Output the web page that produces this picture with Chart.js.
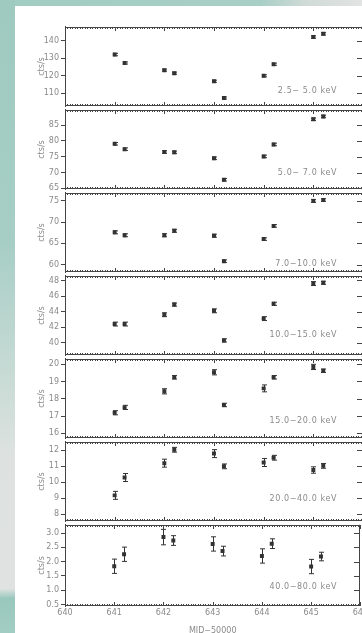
<!DOCTYPE html>
<html>
<head>
<meta charset="utf-8">
<script src="https://cdn.jsdelivr.net/npm/chart.js@4.4.0/dist/chart.umd.min.js"></script>
<style>
  html, body { margin: 0; padding: 0; }
  body { width: 362px; height: 633px; overflow: hidden; position: relative; background: #a6cec5; }
  #edge-top { position: absolute; left: 0; top: 0; width: 362px; height: 6px;
    background: linear-gradient(90deg, #a1ccc2 0%, #a8cfc6 72%, #cfdad6 84%, #e2e3e3 100%); }
  #edge-left { position: absolute; left: 0; top: 0; width: 15px; height: 633px;
    background: linear-gradient(180deg, #9fcac0 0%, #a6cec5 38%, #c6dad4 58%, #dde2e0 72%, #dfe2e1 93%, #9ac8bd 94.5%, #a2cdc3 100%); }
  #sheet { position: absolute; left: 15px; top: 6px; width: 347px; height: 627px; background: #ffffff; }
  #plots { position: absolute; left: 0; top: 0; width: 362px; height: 633px; overflow: hidden; }
  #plots canvas { position: absolute; left: 0; }
</style>
</head>
<body>
<div id="edge-top"></div>
<div id="edge-left"></div>
<div id="sheet"></div>
<div id="plots"></div>
<script>
// Observation times (MJD - 50000)
const mjd = [641.0, 641.2, 642.0, 642.2, 643.0, 643.2, 644.0, 644.2, 645.0, 645.2];
const mjdTicks = [640, 641, 642, 643, 644, 645, 646];

// Energy bands
const bands = ['2.5\u2212 5.0 keV', '5.0\u2212 7.0 keV', '7.0\u221210.0 keV', '10.0\u221215.0 keV',
               '15.0\u221220.0 keV', '20.0\u221240.0 keV', '40.0\u221280.0 keV'];

// Count rates (cts/s) and 1-sigma errors per band
const rate2_5   = [132.0, 127.2, 123.1, 121.4, 116.8, 107.3, 119.9, 126.5, 142.0, 143.8];
const err2_5    = [0.7, 0.6, 0.6, 0.6, 0.6, 0.6, 0.6, 0.6, 0.7, 0.7];
const rate5_7   = [79.1, 77.4, 76.5, 76.4, 74.5, 67.7, 75.1, 78.9, 86.9, 87.8];
const err5_7    = [0.4, 0.4, 0.4, 0.4, 0.4, 0.4, 0.4, 0.4, 0.4, 0.4];
const rate7_10  = [67.6, 66.9, 66.9, 67.95, 66.8, 60.8, 66.0, 69.1, 75.0, 75.2];
const err7_10   = [0.35, 0.35, 0.35, 0.35, 0.35, 0.3, 0.3, 0.3, 0.35, 0.3];
const rate10_15 = [42.4, 42.4, 43.6, 44.9, 44.1, 40.3, 43.1, 45.0, 47.6, 47.7];
const err10_15  = [0.25, 0.25, 0.25, 0.2, 0.25, 0.2, 0.25, 0.2, 0.25, 0.2];
const rate15_20 = [17.19, 17.5, 18.43, 19.24, 19.53, 17.64, 18.6, 19.24, 19.84, 19.62];
const err15_20  = [0.12, 0.12, 0.15, 0.1, 0.15, 0.1, 0.2, 0.1, 0.15, 0.1];
const rate20_40 = [9.18, 10.3, 11.2, 12.04, 11.8, 11.0, 11.24, 11.54, 10.77, 11.03];
const err20_40  = [0.25, 0.25, 0.25, 0.15, 0.25, 0.15, 0.25, 0.15, 0.2, 0.15];
const rate40_80 = [1.84, 2.26, 2.86, 2.74, 2.62, 2.37, 2.2, 2.63, 1.83, 2.18];
const err40_80  = [0.25, 0.25, 0.27, 0.17, 0.25, 0.17, 0.25, 0.17, 0.25, 0.15];

// Y axis ranges and tick values per band
const yMins = [102.6, 64.7, 58.2, 38.4, 15.72, 7.56, 0.45];
const yMaxs = [147.8, 89.9, 76.9, 48.6, 20.31, 12.54, 3.29];
const yTicks = [
  [110, 120, 130, 140],
  [65, 70, 75, 80, 85],
  [60, 65, 70, 75],
  [40, 42, 44, 46, 48],
  [16, 17, 18, 19, 20],
  [8, 9, 10, 11, 12],
  [0.5, 1.0, 1.5, 2.0, 2.5, 3.0]
];
const yDecimals = [0, 0, 0, 0, 0, 0, 1];

const rates = [rate2_5, rate5_7, rate7_10, rate10_15, rate15_20, rate20_40, rate40_80];
const errs  = [err2_5, err5_7, err7_10, err10_15, err15_20, err20_40, err40_80];

// Layout (page pixels)
const panelTop = 25, panelH = 83, canvasW = 370, plotLeft = 65, plotRight = 363;
const labelRight = 337;
const labelDy = [64, 63, 71, 59, 62, 57, 62];

const inkGrey = '#8a8a8a';
const axisGrey = '#444444';
const markInk = '#333333';
const font8 = { family: '"DejaVu Sans", sans-serif', size: 8 };

// Frame with IDL-style inward ticks, error bars and band label
const framePlugin = {
  id: 'panelFrame',
  afterDatasetsDraw(chart, args, opts) {
    const { ctx } = chart;
    const { left, right, top, bottom } = chart.chartArea;
    const xs = chart.scales.x, ys = chart.scales.y;
    ctx.save();

    // error bars
    const ds = chart.data.datasets[0];
    ctx.strokeStyle = markInk;
    ctx.lineWidth = 1;
    ds.data.forEach((p, k) => {
      const e = ds.errors[k];
      const px = Math.round(xs.getPixelForValue(p.x)) + 0.5;
      const y1 = ys.getPixelForValue(p.y + e);
      const y2 = ys.getPixelForValue(p.y - e);
      ctx.beginPath();
      ctx.moveTo(px, y1); ctx.lineTo(px, y2);
      ctx.moveTo(px - 2.5, y1); ctx.lineTo(px + 2.5, y1);
      ctx.moveTo(px - 2.5, y2); ctx.lineTo(px + 2.5, y2);
      ctx.stroke();
    });

    // top / bottom axes with minor ticks
    ctx.fillStyle = axisGrey;
    const yt = Math.round(top), yb = Math.round(bottom) - 1;
    ctx.fillRect(left, yt, right - left, 1);
    ctx.fillRect(left, yb, right - left, 1);
    for (let k = 0; k <= 120; k++) {
      const v = 640 + k * 0.05;
      const px = Math.round(xs.getPixelForValue(v));
      const len = (k % 20 === 0) ? 4 : 2;
      ctx.fillRect(px, yt, 1, len);
      ctx.fillRect(px, yb - len + 1, 1, len);
    }
    // right axis with inward ticks
    ctx.fillRect(Math.round(right) - 1, top, 1, bottom - top);
    ys.ticks.forEach(t => {
      const py = Math.round(ys.getPixelForValue(t.value));
      ctx.fillRect(Math.round(right) - 6, py, 6, 1);
    });

    // band label
    ctx.font = '8px "DejaVu Sans", sans-serif';
    ctx.fillStyle = inkGrey;
    ctx.textAlign = 'right';
    ctx.textBaseline = 'middle';
    ctx.letterSpacing = '0.6px';
    ctx.fillText(opts.label, labelRight, top + opts.labelDy);
    ctx.restore();
  }
};

const host = document.getElementById('plots');

bands.forEach((band, i) => {
  const last = i === bands.length - 1;
  const h = last ? 5 + panelH + 30 : panelH + 10;
  const canvas = document.createElement('canvas');
  canvas.width = canvasW;
  canvas.height = h;
  canvas.style.width = canvasW + 'px';
  canvas.style.height = h + 'px';
  canvas.style.top = (panelTop + i * panelH - 5) + 'px';
  host.appendChild(canvas);

  const dec = yDecimals[i];
  const ticks = yTicks[i];

  new Chart(canvas, {
    type: 'scatter',
    data: {
      datasets: [{
        data: mjd.map((x, k) => ({ x: x, y: rates[i][k] })),
        errors: errs[i],
        pointStyle: 'rect',
        pointRadius: 2.8,
        pointHoverRadius: 2.8,
        backgroundColor: markInk,
        borderColor: markInk,
        borderWidth: 0
      }]
    },
    options: {
      responsive: false,
      animation: false,
      events: [],
      layout: { padding: { top: 5, bottom: last ? 0 : 5, left: 0, right: canvasW - plotRight } },
      plugins: {
        legend: { display: false },
        tooltip: { enabled: false },
        panelFrame: { label: band, labelDy: labelDy[i] }
      },
      scales: {
        x: {
          type: 'linear',
          min: mjdTicks[0],
          max: mjdTicks[mjdTicks.length - 1],
          display: last,
          afterBuildTicks: s => { s.ticks = mjdTicks.map(v => ({ value: v })); },
          ticks: { autoSkip: false, maxRotation: 0, padding: 2, color: inkGrey, font: font8,
                   callback: v => String(v) },
          grid: { display: false, drawTicks: false, tickLength: 0 },
          border: { display: false },
          title: { display: true, text: 'MJD\u221250000', color: inkGrey, font: font8,
                   padding: { top: 7, bottom: 0 } },
          afterFit: s => { s.height = last ? 30 : 0; }
        },
        y: {
          type: 'linear',
          min: yMins[i],
          max: yMaxs[i],
          afterBuildTicks: s => { s.ticks = ticks.map(v => ({ value: v })); },
          ticks: { autoSkip: false, padding: 2, color: inkGrey, font: font8,
                   callback: v => Number(v).toFixed(dec) },
          grid: { drawOnChartArea: false, drawTicks: true, tickLength: 4, color: axisGrey, lineWidth: 1 },
          border: { display: true, color: axisGrey, width: 1 },
          title: { display: true, text: 'cts/s', color: inkGrey, font: font8,
                   padding: { top: 37, bottom: 0 } },
          afterFit: s => { s.width = plotLeft; }
        }
      }
    },
    plugins: [framePlugin]
  });
});
</script>
</body>
</html>
